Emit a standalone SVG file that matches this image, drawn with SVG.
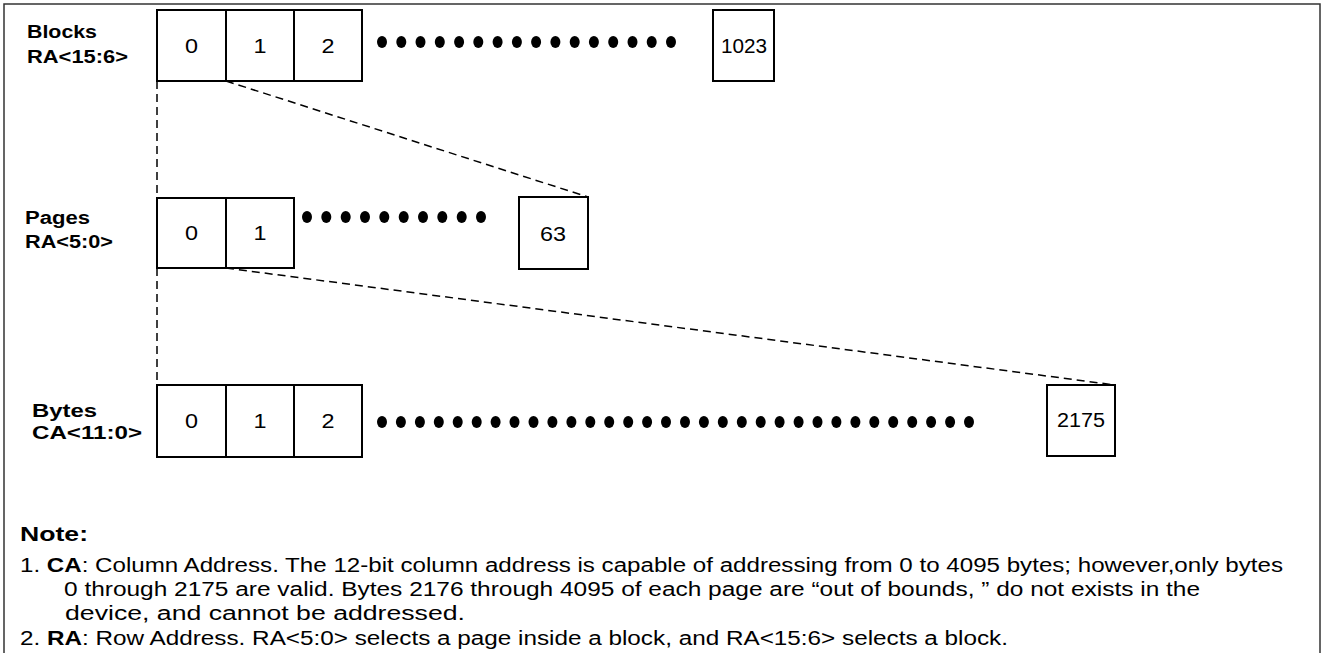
<svg xmlns="http://www.w3.org/2000/svg" width="1325" height="653" viewBox="0 0 1325 653">
<style>
.frame{fill:none;stroke:#333;stroke-width:1.5}
.box{fill:#fff;stroke:#000;stroke-width:2}
.dash{fill:none;stroke:#000;stroke-width:1.5;stroke-dasharray:8,5}
.dot{fill:#000}
.lbl{font-family:"Liberation Sans",Arial,sans-serif;font-weight:bold;font-size:18px;fill:#000}
.num{font-family:"Liberation Sans",Arial,sans-serif;font-size:20px;fill:#000;text-anchor:middle}
.note{font-family:"Liberation Sans",Arial,sans-serif;font-size:19.5px;fill:#000}
</style>
<rect width="1325" height="653" fill="#fff"/>
<rect class="frame" x="4" y="4" width="1316" height="670"/>

<g id="connectors">
<line class="dash" x1="157" y1="81" x2="157" y2="198"/>
<line class="dash" x1="226" y1="81" x2="588" y2="197"/>
<line class="dash" x1="157" y1="268" x2="157" y2="385"/>
<line class="dash" x1="226" y1="268" x2="1115" y2="385"/>
</g>

<g id="blocks">
<text class="lbl" x="27" y="38" textLength="70" lengthAdjust="spacingAndGlyphs">Blocks</text>
<text class="lbl" x="27" y="63" textLength="101" lengthAdjust="spacingAndGlyphs">RA&lt;15:6&gt;</text>
<rect class="box" x="157" y="10" width="69" height="71"/>
<rect class="box" x="226" y="10" width="68" height="71"/>
<rect class="box" x="294" y="10" width="68" height="71"/>
<text class="num" x="191.5" y="53" textLength="13" lengthAdjust="spacingAndGlyphs">0</text>
<text class="num" x="260" y="53" textLength="13" lengthAdjust="spacingAndGlyphs">1</text>
<text class="num" x="328" y="53" textLength="13" lengthAdjust="spacingAndGlyphs">2</text>
<g class="dot">
<ellipse cx="382" cy="42" rx="5" ry="6"/><ellipse cx="401.3" cy="42" rx="5" ry="6"/><ellipse cx="420.5" cy="42" rx="5" ry="6"/><ellipse cx="439.8" cy="42" rx="5" ry="6"/><ellipse cx="459.1" cy="42" rx="5" ry="6"/><ellipse cx="478.3" cy="42" rx="5" ry="6"/><ellipse cx="497.6" cy="42" rx="5" ry="6"/><ellipse cx="516.9" cy="42" rx="5" ry="6"/><ellipse cx="536.1" cy="42" rx="5" ry="6"/><ellipse cx="555.4" cy="42" rx="5" ry="6"/><ellipse cx="574.7" cy="42" rx="5" ry="6"/><ellipse cx="593.9" cy="42" rx="5" ry="6"/><ellipse cx="613.2" cy="42" rx="5" ry="6"/><ellipse cx="632.5" cy="42" rx="5" ry="6"/><ellipse cx="651.7" cy="42" rx="5" ry="6"/><ellipse cx="671" cy="42" rx="5" ry="6"/>
</g>
<rect class="box" x="713" y="10" width="61" height="71"/>
<text class="num" x="744" y="53" textLength="46" lengthAdjust="spacingAndGlyphs">1023</text>
</g>

<g id="pages">
<text class="lbl" x="25" y="224" textLength="65" lengthAdjust="spacingAndGlyphs">Pages</text>
<text class="lbl" x="25" y="248" textLength="88" lengthAdjust="spacingAndGlyphs">RA&lt;5:0&gt;</text>
<rect class="box" x="157" y="198" width="69" height="70"/>
<rect class="box" x="226" y="198" width="68" height="70"/>
<text class="num" x="191.5" y="240" textLength="13" lengthAdjust="spacingAndGlyphs">0</text>
<text class="num" x="260" y="240" textLength="13" lengthAdjust="spacingAndGlyphs">1</text>
<g class="dot">
<ellipse cx="307" cy="217" rx="5" ry="6"/><ellipse cx="326.3" cy="217" rx="5" ry="6"/><ellipse cx="345.7" cy="217" rx="5" ry="6"/><ellipse cx="365" cy="217" rx="5" ry="6"/><ellipse cx="384.3" cy="217" rx="5" ry="6"/><ellipse cx="403.7" cy="217" rx="5" ry="6"/><ellipse cx="423" cy="217" rx="5" ry="6"/><ellipse cx="442.3" cy="217" rx="5" ry="6"/><ellipse cx="461.7" cy="217" rx="5" ry="6"/><ellipse cx="481" cy="217" rx="5" ry="6"/>
</g>
<rect class="box" x="519" y="197" width="69" height="72"/>
<text class="num" x="553" y="241" textLength="26" lengthAdjust="spacingAndGlyphs">63</text>
</g>

<g id="bytes">
<text class="lbl" x="32" y="417" textLength="65" lengthAdjust="spacingAndGlyphs">Bytes</text>
<text class="lbl" x="32" y="439" textLength="110" lengthAdjust="spacingAndGlyphs">CA&lt;11:0&gt;</text>
<rect class="box" x="157" y="385" width="69" height="72"/>
<rect class="box" x="226" y="385" width="68" height="72"/>
<rect class="box" x="294" y="385" width="68" height="72"/>
<text class="num" x="191.5" y="428" textLength="13" lengthAdjust="spacingAndGlyphs">0</text>
<text class="num" x="260" y="428" textLength="13" lengthAdjust="spacingAndGlyphs">1</text>
<text class="num" x="328" y="428" textLength="13" lengthAdjust="spacingAndGlyphs">2</text>
<g class="dot">
<ellipse cx="382" cy="422" rx="5" ry="6"/><ellipse cx="400.9" cy="422" rx="5" ry="6"/><ellipse cx="419.9" cy="422" rx="5" ry="6"/><ellipse cx="438.8" cy="422" rx="5" ry="6"/><ellipse cx="457.7" cy="422" rx="5" ry="6"/><ellipse cx="476.7" cy="422" rx="5" ry="6"/><ellipse cx="495.6" cy="422" rx="5" ry="6"/><ellipse cx="514.5" cy="422" rx="5" ry="6"/><ellipse cx="533.5" cy="422" rx="5" ry="6"/><ellipse cx="552.4" cy="422" rx="5" ry="6"/><ellipse cx="571.4" cy="422" rx="5" ry="6"/><ellipse cx="590.3" cy="422" rx="5" ry="6"/><ellipse cx="609.2" cy="422" rx="5" ry="6"/><ellipse cx="628.2" cy="422" rx="5" ry="6"/><ellipse cx="647.1" cy="422" rx="5" ry="6"/><ellipse cx="666" cy="422" rx="5" ry="6"/><ellipse cx="685" cy="422" rx="5" ry="6"/><ellipse cx="703.9" cy="422" rx="5" ry="6"/><ellipse cx="722.8" cy="422" rx="5" ry="6"/><ellipse cx="741.8" cy="422" rx="5" ry="6"/><ellipse cx="760.7" cy="422" rx="5" ry="6"/><ellipse cx="779.6" cy="422" rx="5" ry="6"/><ellipse cx="798.6" cy="422" rx="5" ry="6"/><ellipse cx="817.5" cy="422" rx="5" ry="6"/><ellipse cx="836.4" cy="422" rx="5" ry="6"/><ellipse cx="855.4" cy="422" rx="5" ry="6"/><ellipse cx="874.3" cy="422" rx="5" ry="6"/><ellipse cx="893.2" cy="422" rx="5" ry="6"/><ellipse cx="912.2" cy="422" rx="5" ry="6"/><ellipse cx="931.1" cy="422" rx="5" ry="6"/><ellipse cx="950.1" cy="422" rx="5" ry="6"/><ellipse cx="969" cy="422" rx="5" ry="6"/>
</g>
<rect class="box" x="1047" y="385" width="68" height="71"/>
<text class="num" x="1081" y="427" textLength="48" lengthAdjust="spacingAndGlyphs">2175</text>
</g>

<g id="notes">
<text class="note" x="20" y="541" font-weight="bold" textLength="68" lengthAdjust="spacingAndGlyphs">Note:</text>
<text class="note" x="20" y="572" textLength="1263" lengthAdjust="spacingAndGlyphs">1. <tspan font-weight="bold">CA</tspan>: Column Address. The 12-bit column address is capable of addressing from 0 to 4095 bytes; however,only bytes</text>
<text class="note" x="64" y="596" textLength="1136" lengthAdjust="spacingAndGlyphs">0 through 2175 are valid.  Bytes 2176 through 4095 of each page are &#8220;out of bounds, &#8221; do not exists in the</text>
<text class="note" x="65" y="620" textLength="400" lengthAdjust="spacingAndGlyphs">device, and cannot be addressed.</text>
<text class="note" x="20" y="645" textLength="988" lengthAdjust="spacingAndGlyphs">2. <tspan font-weight="bold">RA</tspan>: Row Address. RA&lt;5:0&gt; selects a page inside a block, and RA&lt;15:6&gt; selects a block.</text>
</g>
</svg>
